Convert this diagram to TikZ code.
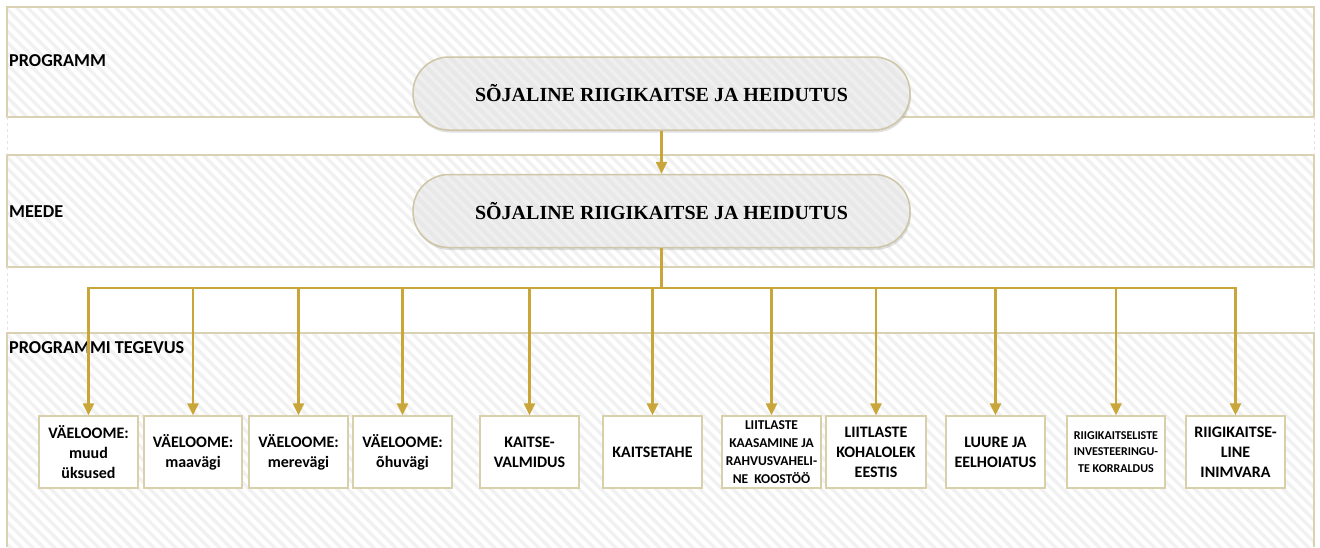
\documentclass[tikz,border=0pt]{standalone}
\usepackage{fontspec}
\setmainfont{Carlito}
\newfontfamily\pillfont{Liberation Serif}
\usetikzlibrary{arrows.meta,shadows}
\definecolor{bandline}{HTML}{D9D1B2}
\definecolor{gold}{HTML}{C9A639}
\definecolor{stripe}{HTML}{F1F1F1}
\definecolor{pillfill}{HTML}{E8E8E8}
\definecolor{pillstripe}{HTML}{EFEFEF}
\definecolor{pillline}{HTML}{CEC6A6}
\definecolor{boxline}{HTML}{D8CFAB}
\definecolor{gapline}{HTML}{E4E4E4}
\newcommand\myhatch[4]{%
  \begin{scope}
    \clip (#1,#2) rectangle (#3,#4);
    \foreach \a in {-270,-259,...,1320} \draw[stripe, line width=3.5pt] (\a,#2) -- ++(270,270);
  \end{scope}}
\tikzset{
  bandlabel/.style={anchor=west, inner sep=0pt, font=\bfseries\fontsize{18.2}{22}\selectfont},
  bandedge/.style={draw=bandline, line width=1.5pt},
  pill/.style={draw=pillline, line width=1.5pt, fill=pillfill, rounded corners=36pt,
    minimum width=497pt, minimum height=73pt,
    font=\pillfont\bfseries\fontsize{20}{24}\selectfont,
    drop shadow={opacity=0.25, shadow xshift=1pt, shadow yshift=-2.5pt},
    path picture={\foreach \a in {0,11,...,600}
      \draw[pillstripe, line width=3.5pt] ([xshift=\a pt-90pt]path picture bounding box.north west) -- ++(90pt,-90pt);}},
  actbox/.style={draw=boxline, line width=1.3pt, fill=white, minimum width=99pt,
    minimum height=72pt, align=center, inner sep=1pt,
    font=\bfseries\fontsize{16}{20}\selectfont},
  smallA/.style={font=\bfseries\fontsize{13.5}{18}\selectfont},
  smallB/.style={font=\bfseries\fontsize{12}{16.7}\selectfont},
  conn/.style={draw=gold, line width=2.6pt},
  arr/.style={conn, -{Triangle[width=11pt,length=12pt]}},
}
\begin{document}
\begin{tikzpicture}[x=1pt,y=-1pt]
\useasboundingbox[fill=white] (0,0) rectangle (1320,547);
% bands
\myhatch{7}{7}{1314}{117}
\myhatch{7}{155}{1314}{267}
\myhatch{7}{333}{1314}{547}
\draw[bandedge] (7,7) rectangle (1314,117);
\draw[bandedge] (7,155) rectangle (1314,267);
\draw[bandedge] (7,547) -- (7,333) -- (1314,333) -- (1314,547);
\draw[gapline, dashed, line width=0.8pt] (7,117) -- (7,155) (7,267) -- (7,333)
  (1314,117) -- (1314,155) (1314,267) -- (1314,333);
% labels
\node[bandlabel] (lprog) at (9,61) {PROGRAMM};
\node[bandlabel] (lmeede) at (9,212) {MEEDE};
\node[bandlabel] (ltegevus) at (9,348) {PROGRAMMI TEGEVUS};
% pills
\node[pill] (p1) at (661.5,93.5) {SÕJALINE RIIGIKAITSE JA HEIDUTUS};
\node[pill] (p2) at (661.5,211) {SÕJALINE RIIGIKAITSE JA HEIDUTUS};
% activity boxes
\node[actbox] (b1) at (88.5,452) {VÄELOOME:\\muud\\üksused};
\node[actbox, minimum width=98pt] (b2) at (193,452) {VÄELOOME:\\maavägi};
\node[actbox] (b3) at (298.5,452) {VÄELOOME:\\merevägi};
\node[actbox] (b4) at (402.5,452) {VÄELOOME:\\õhuvägi};
\node[actbox] (b5) at (529.5,452) {KAITSE-\\VALMIDUS};
\node[actbox] (b6) at (652.5,452) {KAITSETAHE};
\node[actbox, smallA] (b7) at (771.5,452) {LIITLASTE\\KAASAMINE JA\\RAHVUSVAHELI-\\NE\ \ KOOSTÖÖ};
\node[actbox, minimum width=100pt] (b8) at (876,452) {LIITLASTE\\KOHALOLEK\\EESTIS};
\node[actbox] (b9) at (995.5,452) {LUURE JA\\EELHOIATUS};
\node[actbox, smallB, minimum width=98pt] (b10) at (1116,452) {RIIGIKAITSELISTE\\INVESTEERINGU-\\TE KORRALDUS};
\node[actbox] (b11) at (1235.5,452) {RIIGIKAITSE-\\LINE\\INIMVARA};
% connectors
\draw[arr] (p1.south) -- (p2.north);
\coordinate (bus) at (661.5,288);
\draw[conn] (p2.south) -- (bus);
\draw[conn, line cap=rect] (b1.north |- bus) -- (b11.north |- bus);
\foreach \b in {b1,b2,b3,b4,b5,b6,b7,b8,b9,b10,b11}
  \draw[arr] (\b.north |- bus) -- (\b.north);
\end{tikzpicture}
\end{document}
